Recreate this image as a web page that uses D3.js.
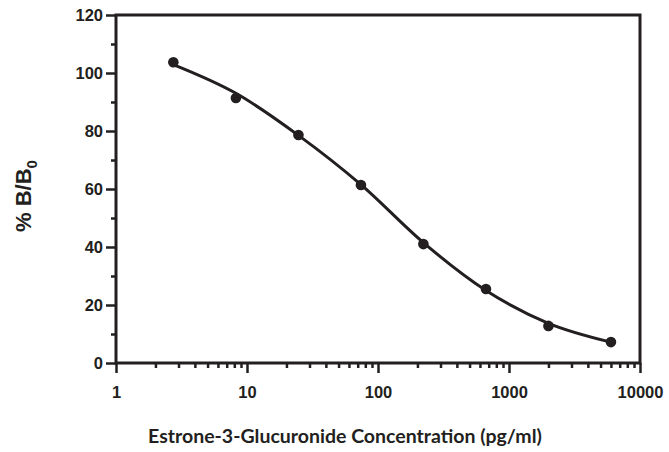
<!DOCTYPE html>
<meta charset="utf-8">
<head>
	<title>Estrone-3-Glucuronide standard curve</title>
	<script type="text/javascript" src="https://cdn.jsdelivr.net/npm/d3@7"></script>
	<style>
		body { margin: 0; background: #fff; }
		.tick text {
			font-family: "Liberation Sans", Arial, sans-serif;
			font-weight: bold;
			font-size: 16.5px;
			fill: #231f20;
		}
		.tick line { stroke: #231f20; stroke-width: 2.5; }
	</style>
</head>
<body>
	<div id="chart"></div>
	<script>
		// standard concentrations (pg/ml)
		var conc = [2.74, 8.23, 24.7, 74.1, 222, 667, 2000, 6000];
		// measured % B/B0
		var pctB = [103.7, 91.4, 78.6, 61.4, 41.0, 25.5, 12.8, 7.2];
		// fitted curve at the same concentrations
		var fitB = [102.9, 93.0, 78.5, 61.5, 41.5, 25.0, 13.7, 7.2];

		var xTicks = [1, 10, 100, 1000, 10000];
		var yTicks = [0, 20, 40, 60, 80, 100, 120];
		var yMinor = [10, 30, 50, 70, 90, 110];

		var w = 669, h = 452;
		var ink = "#231f20";
		// plot box edges (note: "top" is taken by window.top)
		var plotL = 116, plotR = 640, plotT = 15, plotB = 363;

		var svg = d3.select("#chart").append("svg")
			.attr("width", w).attr("height", h);

		var x = d3.scaleLog().domain([1, 10000]).range([plotL, plotR]);
		var y = d3.scaleLinear().domain([0, 120]).range([plotB, plotT]);

		// minor x ticks 2..9 of each decade
		var xMinor = x.ticks().filter(function (d) { return xTicks.indexOf(d) < 0; });

		// x axis
		svg.append("g")
			.attr("transform", "translate(0," + plotB + ")")
			.call(d3.axisBottom(x).tickValues(xMinor).tickSize(5).tickFormat(""))
			.select(".domain").remove();
		svg.append("g")
			.attr("transform", "translate(0," + plotB + ")")
			.call(d3.axisBottom(x).tickValues(xTicks).tickSize(10).tickPadding(13)
				.tickFormat(d3.format("d")))
			.select(".domain").remove();

		// y axis
		svg.append("g")
			.attr("transform", "translate(" + plotL + ",0)")
			.call(d3.axisLeft(y).tickValues(yMinor).tickSize(5).tickFormat(""))
			.select(".domain").remove();
		svg.append("g")
			.attr("transform", "translate(" + plotL + ",0)")
			.call(d3.axisLeft(y).tickValues(yTicks).tickSize(10).tickPadding(3))
			.select(".domain").remove();

		// frame
		svg.append("rect")
			.attr("x", plotL).attr("y", plotT)
			.attr("width", plotR - plotL).attr("height", plotB - plotT)
			.style("fill", "none")
			.style("stroke", ink)
			.style("stroke-width", 3);

		// fitted curve
		var line = d3.line()
			.x(function (d, i) { return x(conc[i]); })
			.y(function (d) { return y(d); })
			.curve(d3.curveMonotoneX);

		svg.append("path")
			.datum(fitB)
			.attr("d", line)
			.style("fill", "none")
			.style("stroke", ink)
			.style("stroke-width", 3);

		// data points
		svg.selectAll("circle.pt")
			.data(pctB).enter()
			.append("circle")
			.attr("class", "pt")
			.attr("cx", function (d, i) { return x(conc[i]); })
			.attr("cy", function (d) { return y(d); })
			.attr("r", 5.3)
			.style("fill", ink);

		// axis titles
		svg.append("text")
			.attr("x", 345).attr("y", 443)
			.attr("text-anchor", "middle")
			.style("font-family", "Lato, sans-serif")
			.style("font-weight", "bold")
			.style("font-size", "19.5px")
			.style("fill", ink)
			.text("Estrone-3-Glucuronide Concentration (pg/ml)");

		var yt = svg.append("text")
			.attr("transform", "translate(31,196) rotate(-90)")
			.attr("text-anchor", "middle")
			.style("font-family", "'Liberation Sans', Arial, sans-serif")
			.style("font-weight", "bold")
			.style("font-size", "22px")
			.style("fill", ink);
		yt.append("tspan").text("% B/B");
		yt.append("tspan").attr("dy", 6).style("font-size", "15px").text("0");
	</script>
</body>
